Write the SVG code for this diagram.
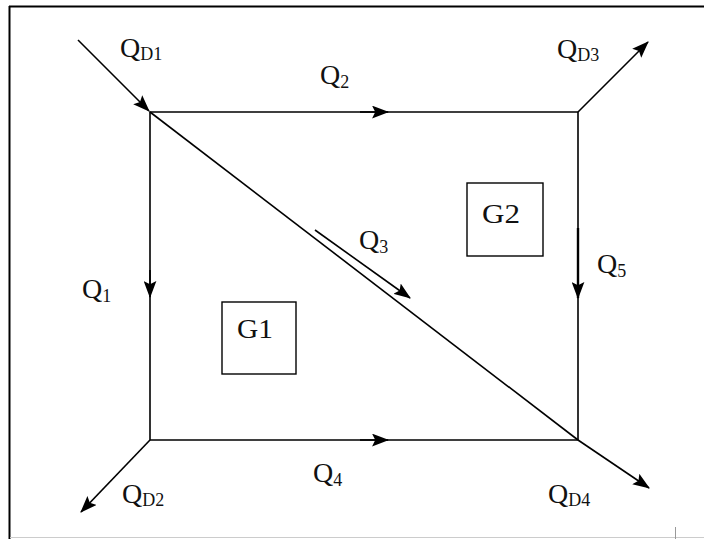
<svg xmlns="http://www.w3.org/2000/svg" width="704" height="539" viewBox="0 0 704 539">
<style>
.ln{stroke:#000;stroke-width:1.6;fill:none}
.ar{stroke:#000;stroke-width:1.6;fill:none;marker-end:url(#ah)}
.box{stroke:#000;stroke-width:1.4;fill:#fff}
.t{font-family:"Liberation Serif","Times New Roman",serif;font-size:28px;fill:#111}
.s{font-size:18px}
</style>
<defs>
<marker id="ah" viewBox="0 0 16 12" refX="15" refY="6" markerWidth="17" markerHeight="13" markerUnits="userSpaceOnUse" orient="auto">
<path d="M0,0 L16,6 L0,12 L3,6 z" fill="#000"/>
</marker>
</defs>
<rect x="0" y="0" width="704" height="539" fill="#fff"/>
<g id="frame">
<line x1="9" y1="6.5" x2="704" y2="6.5" stroke="#000" stroke-width="2"/>
<line x1="9.5" y1="6" x2="9.5" y2="539" stroke="#000" stroke-width="2"/>
<line x1="10" y1="537.5" x2="704" y2="537.5" stroke="#ccc" stroke-width="1"/>
<line x1="675.5" y1="527" x2="675.5" y2="539" stroke="#999" stroke-width="1"/>
</g>
<g id="connectors">
<path class="ln" d="M150,112 H578 V440 H150 Z"/>
<line class="ln" x1="150" y1="112" x2="578" y2="440"/>
<line class="ar" x1="578" y1="440" x2="649" y2="488"/>
<line class="ar" x1="78" y1="40" x2="149" y2="111"/>
<line class="ar" x1="578" y1="112" x2="648" y2="42"/>
<line class="ar" x1="150" y1="440" x2="81" y2="512"/>
<line class="ar" x1="360" y1="112" x2="388" y2="112"/>
<line class="ar" x1="360" y1="440" x2="388" y2="440"/>
<line class="ar" x1="150" y1="270" x2="150" y2="297"/>
<line class="ar" x1="578" y1="228" x2="578" y2="298" style="stroke-width:2.4"/>
<line class="ar" x1="315" y1="230" x2="410" y2="298"/>
</g>
<g id="G1">
<rect class="box" x="222" y="302" width="74" height="72"/>
<text class="t" x="237" y="338" textLength="36" lengthAdjust="spacingAndGlyphs">G1</text>
</g>
<g id="G2">
<rect class="box" x="467" y="183" width="76" height="73"/>
<text class="t" x="482" y="223" textLength="38" lengthAdjust="spacingAndGlyphs">G2</text>
</g>
<g id="labels">
<text class="t" x="120" y="57">Q<tspan class="s" dy="3">D1</tspan></text>
<text class="t" x="557" y="58">Q<tspan class="s" dy="3">D3</tspan></text>
<text class="t" x="122" y="503">Q<tspan class="s" dy="3">D2</tspan></text>
<text class="t" x="548" y="503">Q<tspan class="s" dy="3">D4</tspan></text>
<text class="t" x="320" y="84">Q<tspan class="s" dy="4">2</tspan></text>
<text class="t" x="359" y="249">Q<tspan class="s" dy="4">3</tspan></text>
<text class="t" x="597" y="273">Q<tspan class="s" dy="4">5</tspan></text>
<text class="t" x="82" y="298">Q<tspan class="s" dy="4">1</tspan></text>
<text class="t" x="313" y="482">Q<tspan class="s" dy="4">4</tspan></text>
</g>
</svg>
